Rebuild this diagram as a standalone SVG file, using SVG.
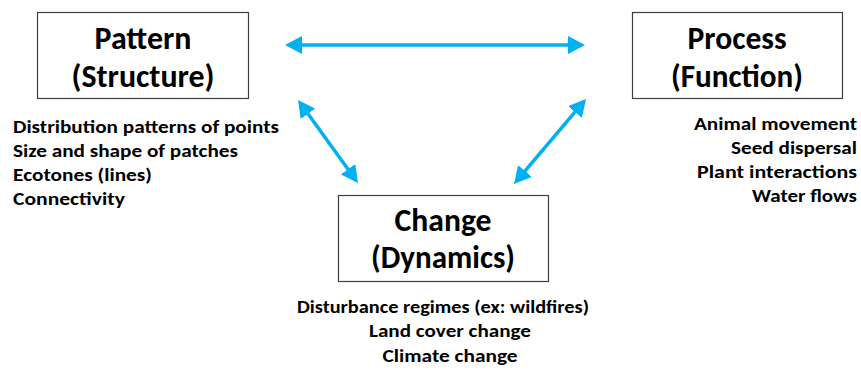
<svg xmlns="http://www.w3.org/2000/svg" width="861" height="370" viewBox="0 0 861 370">
<style>
  .box { fill: #ffffff; stroke: #3f3f3f; stroke-width: 1.2; }
  .title { font-family: "Carlito", "Liberation Sans", Arial, sans-serif; font-weight: bold; font-size: 32px; fill: #000000; text-anchor: middle; }
  .body { font-family: "Carlito", "Liberation Sans", Arial, sans-serif; font-weight: bold; font-size: 18px; fill: #000000; }
  .conn { stroke: #00b0f0; stroke-width: 3.5; fill: none; marker-start: url(#ah); marker-end: url(#ah); }
</style>
<defs>
  <marker id="ah" viewBox="0 0 17 18" refX="8" refY="9" markerWidth="17" markerHeight="18" markerUnits="userSpaceOnUse" orient="auto-start-reverse">
    <path d="M0,0 L17,9 L0,18 z" fill="#00b0f0"/>
  </marker>
</defs>
<rect width="861" height="370" fill="#ffffff"/>
<g id="connectors">
  <line class="conn" x1="294" y1="45" x2="576" y2="45"/>
  <line class="conn" x1="303.3" y1="107.3" x2="352.7" y2="175.7"/>
  <line class="conn" x1="580.2" y1="105.9" x2="519.8" y2="177.1"/>
</g>
<g id="pattern">
  <rect class="box" x="37.5" y="12.5" width="211" height="86"/>
  <text class="title" x="143" y="49" textLength="97" lengthAdjust="spacingAndGlyphs">Pattern</text>
  <text class="title" x="143" y="87" textLength="143" lengthAdjust="spacingAndGlyphs">(Structure)</text>
  <text class="body" x="13" y="133" textLength="266" lengthAdjust="spacingAndGlyphs">Distribution patterns of points</text>
  <text class="body" x="13" y="157" textLength="225" lengthAdjust="spacingAndGlyphs">Size and shape of patches</text>
  <text class="body" x="13" y="181" textLength="139" lengthAdjust="spacingAndGlyphs">Ecotones (lines)</text>
  <text class="body" x="13" y="205" textLength="112" lengthAdjust="spacingAndGlyphs">Connectivity</text>
</g>
<g id="process">
  <rect class="box" x="632.5" y="12.5" width="210" height="86"/>
  <text class="title" x="737" y="49" textLength="99" lengthAdjust="spacingAndGlyphs">Process</text>
  <text class="title" x="737" y="87" textLength="132" lengthAdjust="spacingAndGlyphs">(Function)</text>
  <text class="body" x="857" y="130" text-anchor="end" textLength="163" lengthAdjust="spacingAndGlyphs">Animal movement</text>
  <text class="body" x="857" y="154" text-anchor="end" textLength="126" lengthAdjust="spacingAndGlyphs">Seed dispersal</text>
  <text class="body" x="857" y="178" text-anchor="end" textLength="160" lengthAdjust="spacingAndGlyphs">Plant interactions</text>
  <text class="body" x="857" y="202" text-anchor="end" textLength="105" lengthAdjust="spacingAndGlyphs">Water flows</text>
</g>
<g id="change">
  <rect class="box" x="338.5" y="195.5" width="210" height="86"/>
  <text class="title" x="443" y="231" textLength="97" lengthAdjust="spacingAndGlyphs">Change</text>
  <text class="title" x="443" y="268" textLength="144" lengthAdjust="spacingAndGlyphs">(Dynamics)</text>
  <text class="body" x="443" y="313" text-anchor="middle" textLength="292" lengthAdjust="spacingAndGlyphs">Disturbance regimes (ex: wildfires)</text>
  <text class="body" x="450" y="337" text-anchor="middle" textLength="162" lengthAdjust="spacingAndGlyphs">Land cover change</text>
  <text class="body" x="450" y="362" text-anchor="middle" textLength="135" lengthAdjust="spacingAndGlyphs">Climate change</text>
</g>
</svg>
